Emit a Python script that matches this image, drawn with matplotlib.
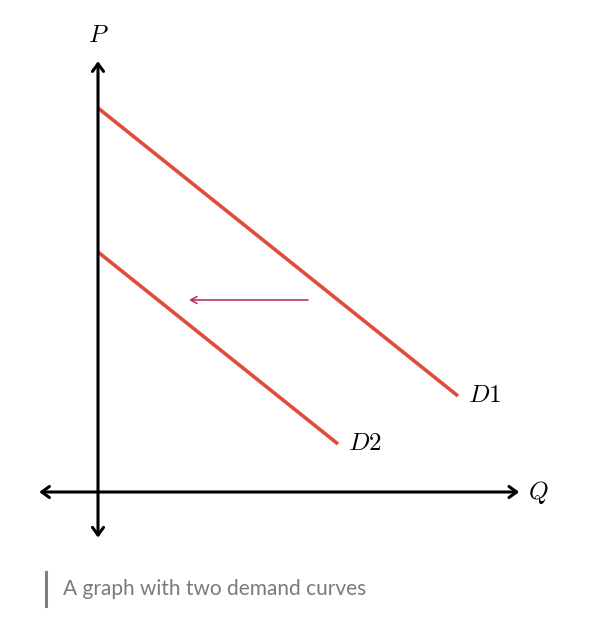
import matplotlib
matplotlib.use("Agg")
import matplotlib.pyplot as plt
from matplotlib.lines import Line2D

plt.rcParams["mathtext.fontset"] = "cm"

# demand curves (Q, P) end points
d1_q = [0, 15]
d1_p = [16, 4]
d2_q = [0, 10]
d2_p = [10, 2]
# shift arrow
shift_q = [8.75, 3.8]
shift_p = 8

ROJO = "#e04b3b"
GRANATE = "#b8244e"

W, H = 601, 622
U = 24.0  # px per unit
ox, oy = 98, 492

fig = plt.figure(figsize=(W / 100, H / 100), dpi=100)
ax = fig.add_axes([0, 0, 1, 1])
ax.set_xlim(-ox / U, (W - ox) / U)
ax.set_ylim(-(H - oy) / U, oy / U)
ax.axis("off")

# axes with open arrows
ejes = dict(arrowstyle="<->,head_length=0.55,head_width=0.4", color="black",
            lw=2.2, shrinkA=0, shrinkB=0)
ax.annotate("", xy=(17.55, 0), xytext=(-2.45, 0), arrowprops=ejes)
ax.annotate("", xy=(0, 17.95), xytext=(0, -1.9), arrowprops=ejes)

ax.plot(d1_q, d1_p, color=ROJO, lw=2.6, solid_capstyle="butt")
ax.plot(d2_q, d2_p, color=ROJO, lw=2.6, solid_capstyle="butt")

ax.annotate("", xy=(shift_q[1], shift_p), xytext=(shift_q[0], shift_p),
            arrowprops=dict(arrowstyle="->,head_length=0.45,head_width=0.25",
                            color=GRANATE, lw=1.1, shrinkA=0, shrinkB=0))

fs = 18
ax.text(0, 19.05, r"$P$", fontsize=fs, ha="center", va="center")
ax.text(18.35, 0, r"$Q$", fontsize=fs, ha="center", va="center")
ax.text(15.42, 4.05, r"$D1$", fontsize=fs, ha="left", va="center")
ax.text(10.4, 2.05, r"$D2$", fontsize=fs, ha="left", va="center")

# caption
fig.add_artist(Line2D([46 / W, 46 / W], [1 - 572 / H, 1 - 606 / H],
                      color="#808080", lw=2.2))
fig.text(63 / W, 1 - 589 / H, "A graph with two demand curves",
         fontsize=15, family="Lato", color="#7a7a7a", ha="left", va="center")

fig.savefig("out.png", dpi=100, facecolor="white")
